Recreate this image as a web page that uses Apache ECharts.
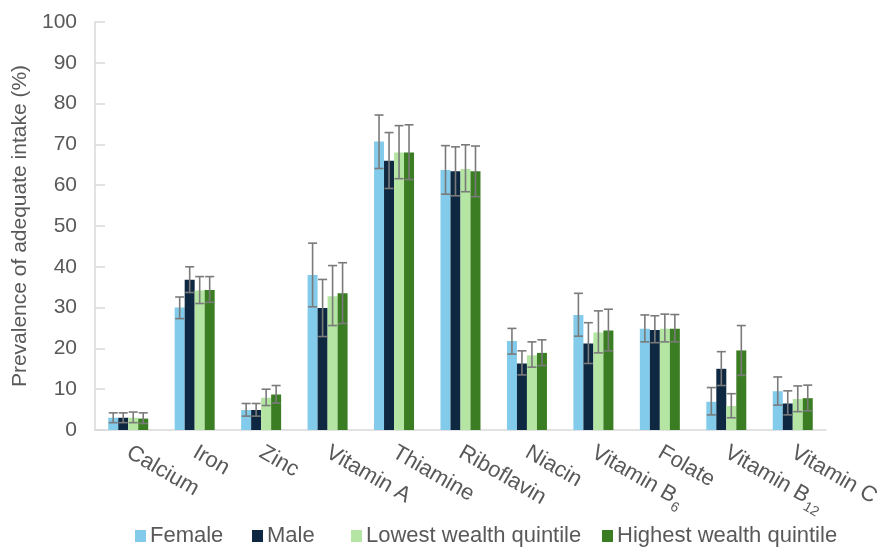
<!DOCTYPE html>
<html><head><meta charset="utf-8">
<script src="https://cdn.jsdelivr.net/npm/echarts@6/dist/echarts.min.js"></script>
<style>html,body{margin:0;padding:0;background:#fff}#c{width:883px;height:547px}</style>
</head><body><div id="c"></div>
<script>
const categories = ['Calcium','Iron','Zinc','Vitamin A','Thiamine','Riboflavin','Niacin','Vitamin B6','Folate','Vitamin B12','Vitamin C'];
const seriesNames = ['Female','Male','Lowest wealth quintile','Highest wealth quintile'];
const female     = [3.0, 30.0, 4.9, 38.0, 70.7, 63.7, 21.8, 28.2, 24.8, 6.9, 9.5];
const femaleLow  = [1.8, 27.3, 3.4, 30.2, 64.1, 57.8, 18.6, 23.0, 21.6, 3.7, 6.1];
const femaleHigh = [4.2, 32.6, 6.5, 45.8, 77.2, 69.7, 24.9, 33.5, 28.2, 10.4, 13.0];
const male       = [3.0, 36.8, 4.9, 29.9, 66.0, 63.4, 16.3, 21.2, 24.5, 15.0, 6.5];
const maleLow    = [1.8, 33.7, 3.4, 22.9, 59.2, 57.4, 13.5, 16.3, 21.4, 10.9, 3.7];
const maleHigh   = [4.2, 40.0, 6.5, 36.9, 72.9, 69.4, 19.4, 26.3, 28.0, 19.2, 9.6];
const lowest     = [3.0, 34.2, 7.9, 32.8, 68.0, 64.0, 18.3, 23.9, 24.8, 5.9, 7.6];
const lowestLow  = [1.8, 31.0, 6.0, 25.6, 61.6, 58.4, 15.4, 18.9, 21.6, 3.0, 4.5];
const lowestHigh = [4.4, 37.6, 10.0, 40.3, 74.6, 69.9, 21.6, 29.2, 28.4, 8.9, 10.8];
const highest     = [2.8, 34.3, 8.7, 33.5, 68.0, 63.4, 18.9, 24.4, 24.8, 19.5, 7.8];
const highestLow  = [1.6, 31.3, 6.6, 26.1, 61.4, 57.2, 15.8, 19.4, 21.6, 13.4, 4.7];
const highestHigh = [4.2, 37.6, 10.9, 41.0, 74.8, 69.6, 22.1, 29.6, 28.3, 25.6, 11.0];
const yTicks = [0,10,20,30,40,50,60,70,80,90,100];

const colors = ['#83CBEB','#0E2841','#B4E5A2','#3B7D23'];
const values = [female, male, lowest, highest];
const lows = [femaleLow, maleLow, lowestLow, highestLow];
const highs = [femaleHigh, maleHigh, lowestHigh, highestHigh];
const FONT = '"Liberation Sans", Arial, sans-serif';
const TXT = '#595959';
const BAR_W = 10;

const chart = echarts.init(document.getElementById('c'), null, {renderer:'canvas'});

const barSeries = seriesNames.map((n,i)=>({
  name:n, type:'bar', data:values[i], barWidth:BAR_W, barGap:'0%', barCategoryGap:'40%',
  itemStyle:{color:colors[i]}, z:2
}));
const errSeries = seriesNames.map((n,i)=>({
  name:n+' err', type:'custom', z:5, silent:true,
  data: categories.map((c,k)=>[k, lows[i][k], highs[i][k]]),
  encode:{x:0, y:[1,2]},
  renderItem:(params, api)=>{
    const lo = api.coord([api.value(0), api.value(1)]);
    const hi = api.coord([api.value(0), api.value(2)]);
    const x = lo[0] + (i-1.5)*BAR_W;
    const cap = 4.5;
    const st = {stroke:'#7a7a7a', lineWidth:1.6};
    return {type:'group', children:[
      {type:'line', shape:{x1:x,y1:lo[1],x2:x,y2:hi[1]}, style:st},
      {type:'line', shape:{x1:x-cap,y1:lo[1],x2:x+cap,y2:lo[1]}, style:st},
      {type:'line', shape:{x1:x-cap,y1:hi[1],x2:x+cap,y2:hi[1]}, style:st}
    ]};
  }
}));

const legendLefts = [135, 252, 351, 602];
const legends = seriesNames.map((n,i)=>({
  data:[n], left:legendLefts[i], top:525, padding:0, icon:'rect', itemWidth:11, itemHeight:12,
  textStyle:{fontFamily:FONT, fontSize:22, color:TXT, padding:[0,0,0,-1]}, selectedMode:false
}));

chart.setOption({
  animation:false,
  textStyle:{fontFamily:FONT},
  legend: legends,
  grid:{left:95, right:55, top:22, bottom:117, containLabel:false},
  xAxis:{
    type:'category', data:categories,
    axisLine:{show:true, lineStyle:{color:'#d9d9d9', width:1.5}},
    axisTick:{show:false},
    axisLabel:{
      interval:0, rotate:-30, margin:21, fontSize:22, color:TXT, fontFamily:FONT,
      formatter:(v)=>{ const m = v.match(/^(Vitamin B)(\d+)$/); return m ? m[1]+'{sub|'+m[2]+'}' : v; },
      rich:{ sub:{fontSize:14, color:TXT, fontFamily:FONT, padding:[17,0,0,1]} }
    }
  },
  yAxis:{
    type:'value', min:0, max:100, interval:10,
    name:'Prevalence of adequate intake (%)', nameLocation:'middle', nameGap:62,
    nameTextStyle:{fontSize:21, color:TXT, fontFamily:FONT},
    axisLine:{show:true, lineStyle:{color:'#d9d9d9', width:1.5}},
    axisTick:{show:true, inside:true, length:10, lineStyle:{color:'#d9d9d9', width:1.5}},
    axisLabel:{margin:18, fontSize:21, color:TXT, fontFamily:FONT,
      formatter:(v)=> yTicks.includes(v) ? String(v) : ''},
    splitLine:{show:false}
  },
  series:[...barSeries, ...errSeries]
});
</script></body></html>
